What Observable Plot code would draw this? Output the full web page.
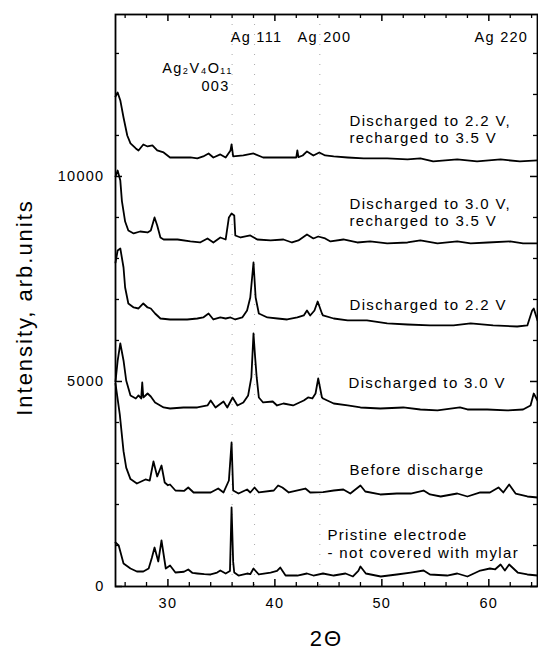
<!DOCTYPE html>
<html><head><meta charset="utf-8">
<script src="https://cdn.jsdelivr.net/npm/d3@7"></script>
<script src="https://cdn.jsdelivr.net/npm/@observablehq/plot@0.6"></script>
<style>
html,body{margin:0;padding:0;background:#fff;}
#chart svg text{letter-spacing:0.09em;}
</style></head><body><div id="chart"></div>
<script>
// ---- data: [2θ, intensity] ----
const recharged22 = [[25.1,11950],[25.3,12049],[25.55,11854],[25.85,11439],[26.2,11000],[26.5,10805],[27.0,10683],[27.25,10634],[27.7,10780],[28.1,10732],[28.55,10756],[29.0,10634],[29.6,10585],[30.2,10463],[31.2,10463],[32.1,10463],[32.75,10439],[33.3,10488],[33.8,10561],[34.25,10463],[34.9,10537],[35.4,10463],[35.85,10634],[35.95,10780],[36.1,10488],[37.05,10512],[38.0,10561],[38.9,10463],[40.8,10463],[42.0,10463],[42.1,10634],[42.2,10470],[42.6,10512],[43.0,10610],[43.6,10512],[44.15,10585],[44.7,10512],[45.5,10488],[46.8,10463],[48.3,10439],[50.5,10439],[52.4,10415],[53.6,10439],[54.8,10366],[57.05,10415],[58.9,10366],[61.1,10415],[62.9,10366],[64.55,10390]];
const recharged30 = [[25.1,10000],[25.3,10146],[25.55,9900],[25.7,9400],[26.0,8900],[26.3,8683],[26.8,8610],[27.4,8658],[28.1,8634],[28.4,8683],[28.75,9000],[29.0,8805],[29.3,8512],[29.6,8463],[30.9,8463],[32.1,8415],[33.0,8390],[33.7,8488],[34.25,8390],[34.9,8512],[35.4,8463],[35.7,9000],[35.95,9097],[36.2,9050],[36.3,8561],[36.8,8512],[37.7,8561],[38.35,8463],[39.6,8439],[40.8,8463],[41.6,8390],[42.2,8439],[43.0,8585],[43.6,8488],[44.05,8536],[44.7,8488],[45.2,8415],[46.4,8463],[47.7,8390],[48.9,8415],[50.5,8366],[52.4,8390],[53.6,8439],[55.2,8366],[57.05,8415],[58.3,8366],[59.9,8390],[62.0,8415],[63.2,8366],[64.55,8366]];
const discharged22 = [[25.1,7900],[25.3,8195],[25.55,8244],[25.85,7780],[26.0,7293],[26.3,6902],[26.8,6805],[27.25,6780],[27.7,6902],[28.1,6805],[28.4,6780],[28.8,6658],[29.3,6536],[30.2,6512],[31.8,6512],[32.75,6536],[33.3,6561],[33.8,6658],[34.25,6512],[34.9,6561],[35.4,6536],[35.85,6561],[36.3,6512],[36.95,6561],[37.4,6732],[37.7,7049],[38.0,7902],[38.2,7049],[38.5,6658],[39.3,6561],[40.25,6536],[41.15,6512],[42.1,6561],[42.7,6610],[43.0,6732],[43.3,6610],[43.7,6732],[44.0,6951],[44.4,6658],[44.5,6610],[45.5,6536],[46.8,6488],[48.6,6488],[50.5,6415],[52.4,6390],[54.5,6366],[56.7,6366],[58.3,6415],[60.4,6366],[62.65,6341],[63.6,6366],[64.05,6732],[64.2,6780],[64.55,6488]];
const discharged30 = [[25.1,5000],[25.3,5500],[25.55,5927],[25.85,5512],[26.1,5024],[26.5,4659],[27.0,4585],[27.25,4659],[27.5,4585],[27.6,4976],[27.7,4610],[28.1,4707],[28.4,4634],[28.8,4488],[29.6,4366],[30.2,4341],[31.45,4366],[32.75,4366],[33.7,4415],[34.0,4537],[34.45,4366],[35.2,4512],[35.55,4366],[36.05,4610],[36.5,4415],[37.05,4488],[37.5,4659],[37.8,5098],[38.0,6171],[38.15,5600],[38.3,5098],[38.5,4610],[38.9,4488],[39.8,4512],[40.2,4415],[40.8,4463],[41.7,4415],[42.7,4537],[43.1,4610],[43.5,4585],[43.8,4707],[44.05,5073],[44.4,4610],[44.5,4585],[45.5,4463],[46.8,4415],[48.0,4366],[49.85,4341],[52.0,4366],[53.6,4317],[55.2,4293],[57.3,4366],[58.0,4317],[59.85,4317],[61.7,4293],[63.2,4317],[63.9,4415],[64.2,4707],[64.55,4537]];
const beforeDischarge = [[25.1,4950],[25.5,4200],[25.85,3300],[26.1,2900],[26.5,2620],[27.1,2512],[27.9,2610],[28.3,2585],[28.65,3049],[29.0,2683],[29.4,2951],[29.7,2537],[30.0,2470],[30.2,2488],[30.7,2341],[31.5,2330],[31.9,2415],[32.4,2293],[34.0,2293],[34.7,2390],[35.2,2293],[35.7,2585],[35.95,3512],[36.1,2341],[36.6,2268],[37.4,2366],[37.7,2293],[38.1,2415],[38.5,2293],[39.9,2341],[40.3,2463],[40.7,2415],[41.3,2293],[42.85,2390],[43.3,2293],[44.5,2300],[45.5,2341],[46.4,2366],[47.05,2268],[48.0,2463],[48.45,2317],[49.85,2244],[51.4,2268],[52.7,2268],[53.9,2341],[54.5,2244],[55.5,2195],[57.05,2268],[58.0,2195],[59.2,2293],[60.1,2293],[60.9,2415],[61.35,2293],[61.9,2488],[62.5,2268],[63.6,2195],[64.55,2171]];
const pristine = [[25.1,1073],[25.4,1000],[25.85,561],[26.5,439],[27.1,366],[27.7,366],[28.2,439],[28.5,700],[28.75,951],[29.1,610],[29.4,1122],[29.8,439],[30.2,512],[30.7,341],[31.5,360],[31.9,415],[32.3,330],[32.75,317],[33.4,300],[34.0,293],[34.6,340],[34.9,390],[35.4,317],[35.8,380],[35.95,1927],[36.1,600],[36.2,341],[36.6,268],[37.4,317],[37.7,300],[38.0,439],[38.5,293],[39.6,341],[40.2,380],[40.5,463],[41.0,268],[42.1,268],[43.0,317],[43.6,268],[44.5,317],[45.5,268],[46.6,317],[47.3,244],[47.8,380],[48.0,488],[48.5,317],[49.9,244],[51.4,293],[52.7,341],[53.9,390],[54.5,293],[56.1,268],[57.05,317],[58.0,244],[59.2,390],[60.1,439],[60.6,420],[61.1,537],[61.5,390],[61.9,537],[62.7,341],[63.6,293],[64.55,268]];

const seriesList = [
  ["Discharged to 2.2 V, recharged to 3.5 V", recharged22],
  ["Discharged to 3.0 V, recharged to 3.5 V", recharged30],
  ["Discharged to 2.2 V", discharged22],
  ["Discharged to 3.0 V", discharged30],
  ["Before discharge", beforeDischarge],
  ["Pristine electrode", pristine]
];

// curve labels: text, x (2θ), y (intensity at last baseline)
const labelText = ["Discharged to 2.2 V,\nrecharged to 3.5 V","Discharged to 3.0 V,\nrecharged to 3.5 V","Discharged to 2.2 V","Discharged to 3.0 V","Before discharge","Pristine electrode\n- not covered with mylar"];
const labelX = [46.97,46.97,46.97,46.88,46.97,44.91];
const labelY = [10804,8780,6755,4829,2731,707];

// peak annotations
const peakText = ["Ag 111","Ag 200","Ag 220","Ag\u2082V\u2084O\u2081\u2081","003"];
const peakX = [38.28,44.63,61.17,32.76,34.45];
const peakY = [13291,13291,13291,12535,12096];

const refLines = [36.0, 38.1, 44.2];

const xTickLabels = [30,40,50,60];
const xMinorTicks = [26,28,32,34,36,38,42,44,46,48,52,54,56,58,62,64];
const yTickLabels = [0,5000,10000];
const yMinorTicks = [1000,2000,3000,4000,6000,7000,8000,9000,11000,12000,13000];

const xTitle = "2\u0398";
const yTitle = "Intensity, arb.units";

// ---- layout ----
const W = 538, H = 651, mL = 115, mR = 1, mT = 14, mB = 65;
const pW = W - mL - mR, pH = H - mT - mB;
const majorLen = 7, minorLen = 4;

const rows = seriesList.flatMap(([name, pts]) => pts.map(([x, y]) => ({series: name, x, y})));
const labels = labelText.map((t, i) => ({text: t, x: labelX[i], y: labelY[i]}));
const peaks = peakText.map((t, i) => ({text: t, x: peakX[i], y: peakY[i]}));

const chart = Plot.plot({
  width: W, height: H,
  marginLeft: mL, marginRight: mR, marginTop: mT, marginBottom: mB,
  style: {fontFamily: "'Liberation Sans', Arial, sans-serif", fontSize: "14.5px", color: "black", background: "white", overflow: "visible"},
  x: {domain: [25.1, 64.55]},
  y: {domain: [0, 13950]},
  marks: [
    Plot.ruleX(refLines, {x: d => d, stroke: "#aaa", strokeWidth: 1, strokeDasharray: "1 9"}),
    // inward ticks
    Plot.ruleX(xTickLabels, {x: d => d, insetTop: pH - majorLen, stroke: "black", strokeWidth: 1.5}),
    Plot.ruleX(xMinorTicks, {x: d => d, insetTop: pH - minorLen, stroke: "black", strokeWidth: 1.3}),
    Plot.ruleX(xTickLabels, {x: d => d, insetBottom: pH - majorLen, stroke: "black", strokeWidth: 1.5}),
    Plot.ruleX(xMinorTicks, {x: d => d, insetBottom: pH - minorLen, stroke: "black", strokeWidth: 1.3}),
    Plot.ruleY(yTickLabels, {y: d => d, insetRight: pW - majorLen, stroke: "black", strokeWidth: 1.5}),
    Plot.ruleY(yMinorTicks, {y: d => d, insetRight: pW - minorLen, stroke: "black", strokeWidth: 1.3}),
    Plot.ruleY(yTickLabels, {y: d => d, insetLeft: pW - majorLen, stroke: "black", strokeWidth: 1.5}),
    Plot.ruleY(yMinorTicks, {y: d => d, insetLeft: pW - minorLen, stroke: "black", strokeWidth: 1.3}),
    Plot.axisX({ticks: xTickLabels, tickSize: 0, tickPadding: 11, label: null, fontSize: 14.5, tickFormat: d3.format("d")}),
    Plot.axisY({ticks: yTickLabels, tickSize: 0, tickPadding: 11, label: null, fontSize: 14.5, tickFormat: d3.format("d")}),
    Plot.frame({stroke: "black", strokeWidth: 1.8}),
    Plot.line(rows, {x: "x", y: "y", z: "series", stroke: "black", strokeWidth: 1.8, strokeLinejoin: "round"}),
    Plot.text(labels, {x: "x", y: "y", text: "text", textAnchor: "start", lineAnchor: "bottom", lineHeight: 1.14, fontSize: 15, fill: "black"}),
    Plot.text(peaks, {x: "x", y: "y", text: "text", textAnchor: "middle", lineAnchor: "bottom", fontSize: 14.5, fill: "black"}),
    Plot.text([xTitle], {frameAnchor: "bottom", textAnchor: "middle", dy: 59, lineAnchor: "bottom", fontSize: 22, fill: "black"}),
    Plot.text([yTitle], {frameAnchor: "left", textAnchor: "middle", rotate: -90, dx: -91, dy: 7, lineAnchor: "middle", fontSize: 22, fill: "black"})
  ]
});
document.getElementById("chart").appendChild(chart);
</script></body></html>
